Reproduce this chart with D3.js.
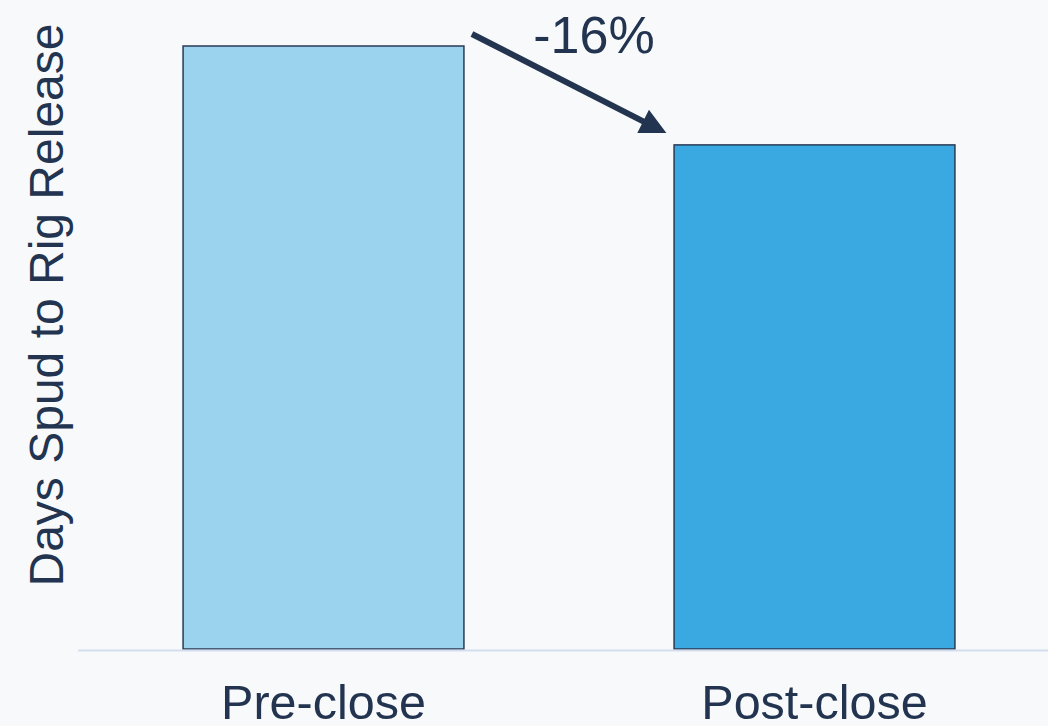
<!DOCTYPE html>
<html>
<head>
<meta charset="utf-8">
<script src="https://cdn.jsdelivr.net/npm/d3@7"></script>
<style>
  html, body { margin: 0; padding: 0; background: #f8f9fb; }
  svg { display: block; }
  text { font-family: "Liberation Sans", Arial, sans-serif; fill: #22344f; }
</style>
</head>
<body>
<svg id="chart" width="1048" height="726"></svg>
<script>
// Average days from spud to rig release, before and after the close
const categories = ["Pre-close", "Post-close"];
const values = [100, 83.6];
const barColors = ["#9bd3ef", "#3ba9e1"];
const yLabel = "Days Spud to Rig Release";

const W = 1048, H = 726;
const svg = d3.select("#chart");

const x = d3.scaleBand()
  .domain(categories)
  .range([78, 1060])
  .paddingInner(0.428)
  .paddingOuter(0.214);

const y = d3.scaleLinear()
  .domain([0, 100])
  .range([649, 46]);

// bars
svg.selectAll("rect.bar")
  .data(categories)
  .join("rect")
  .attr("class", "bar")
  .attr("x", d => x(d))
  .attr("y", (d, i) => y(values[i]))
  .attr("width", x.bandwidth())
  .attr("height", (d, i) => y(0) - y(values[i]))
  .attr("fill", (d, i) => barColors[i])
  .attr("stroke", "#2a3a55")
  .attr("stroke-width", 1.5);

// baseline
svg.append("line")
  .attr("x1", 78).attr("x2", W)
  .attr("y1", y(0) + 1.5).attr("y2", y(0) + 1.5)
  .attr("stroke", "#d3deef")
  .attr("stroke-width", 2);

// category labels
const xAxis = d3.axisBottom(x).tickSize(0).tickPadding(0);
const gx = svg.append("g")
  .attr("transform", `translate(0,${y(0)})`)
  .call(xAxis);
gx.select(".domain").remove();
gx.selectAll("text")
  .attr("dy", null)
  .attr("y", 70)
  .attr("fill", "#22344f")
  .style("font-size", "48.5px")
  .style("font-family", "'Liberation Sans', Arial, sans-serif");

// y axis title
svg.append("text")
  .attr("transform", `translate(63,305) rotate(-90)`)
  .attr("text-anchor", "middle")
  .style("font-size", "48px")
  .text(yLabel);

// change arrow between bar tops
const change = (values[1] - values[0]) / values[0];
const x0 = x(categories[0]) + x.bandwidth() + 8;
const y0 = y(values[0]) - 12;
const x1 = x(categories[1]) - 10;
const y1 = y(values[1]) - 13;

svg.append("defs").append("marker")
  .attr("id", "head")
  .attr("viewBox", "0 0 10 10")
  .attr("refX", 9).attr("refY", 5)
  .attr("markerUnits", "userSpaceOnUse")
  .attr("markerWidth", 30).attr("markerHeight", 26)
  .attr("orient", "auto")
  .append("path")
  .attr("d", "M0,0 L10,5 L0,10 Z")
  .attr("fill", "#22344f");

svg.append("line")
  .attr("x1", x0).attr("y1", y0)
  .attr("x2", x1 - 14).attr("y2", y1 - 7)
  .attr("stroke", "#22344f")
  .attr("stroke-width", 6);

svg.append("path")
  .attr("d", d3.line()([[x1 - 20, y1 - 10], [x1, y1]]))
  .attr("stroke", "none")
  .attr("marker-end", "url(#head)");

svg.append("text")
  .attr("x", 594)
  .attr("y", 53)
  .attr("text-anchor", "middle")
  .style("font-size", "52px")
  .text(d3.format(".0%")(change).replace("−", "-"));
</script>
</body>
</html>
